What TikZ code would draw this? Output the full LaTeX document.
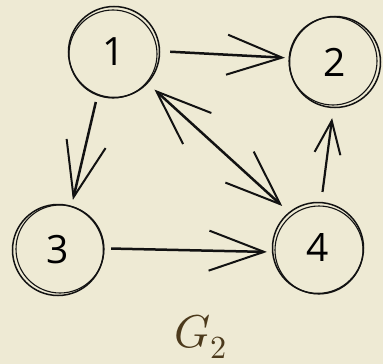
\documentclass[tikz,border=0pt]{standalone}
\usepackage{fontspec}
\usepackage{unicode-math}
\setsansfont{Open Sans}
\usetikzlibrary{arrows.meta, calc}
\definecolor{paper}{RGB}{238,234,212}
\definecolor{ink}{RGB}{18,18,18}
\definecolor{gbrown}{RGB}{76,58,28}

\begin{document}
\begin{tikzpicture}[
    x=1pt, y=-1pt,
    vertex/.style={
        circle,
        draw=ink,
        line width=1.5pt,
        minimum size=91pt,
        inner sep=0pt,
        font=\sffamily\fontsize{39}{44}\selectfont
    },
    sketch/.style={
        draw=ink,
        line width=1.1pt
    },
    arrow/.style={
        -{Straight Barb[length=55pt, width=40pt, line width=2pt]},
        line width=2.5pt,
        draw=ink
    },
    bothways/.style={
        {Straight Barb[length=55pt, width=42pt, line width=2pt]}-{Straight Barb[length=55pt, width=42pt, line width=2pt]},
        line width=2.5pt,
        draw=ink
    },
    smallarrow/.style={
        -{Straight Barb[length=33pt, width=26pt, line width=2pt]},
        line width=2.2pt,
        draw=ink
    }
]

% paper
\fill[paper] (0,0) rectangle (383,364);

% Vertices
\node[vertex] (n1) at (114,52) {1};
\node[vertex] (n2) at (335,62) {2};
\node[vertex] (n3) at (58,250) {3};
\node[vertex] (n4) at (318,248) {4};

% second pencil strokes
\draw[sketch] ($(n1)+(-1,2)$) circle[radius=44pt];
\draw[sketch] ($(n2)+(-2,-1)$) circle[radius=44pt];
\draw[sketch] ($(n3)+(2,-1)$) circle[radius=44pt];
\draw[sketch] ($(n4)+(1,2)$) circle[radius=44pt];

% Edges
\draw[arrow, shorten <=10pt, shorten >=4pt] (n1.1) -- (n2.175);
\draw[arrow, shorten <=7pt, shorten >=6pt] (n1.249) -- (n3.73);
\draw[arrow, shorten <=7pt, shorten >=5pt] (n3.2) -- (n4.185);
\draw[smallarrow, shorten <=10pt, shorten >=10pt] (n4.86) -- (n2.268);
\draw[bothways, shorten <=9pt, shorten >=9pt] (n1.317) -- (n4.129);

% graph name
\node[text=gbrown, anchor=base] (name) at (201,347)
    {\fontsize{46}{50}\selectfont$G_2$};

\end{tikzpicture}
\end{document}
